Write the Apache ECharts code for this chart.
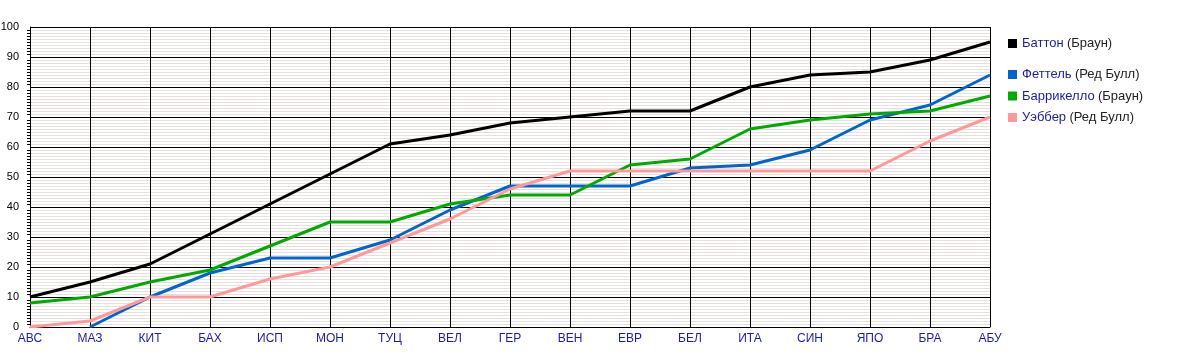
<!DOCTYPE html>
<html><head><meta charset="utf-8">
<script src="https://cdn.jsdelivr.net/npm/echarts@6/dist/echarts.min.js"></script>
<style>html,body{margin:0;padding:0;background:#fff}#c{width:1190px;height:357px}</style>
</head><body><div id="c"></div>
<script>
const categories = ['АВС','МАЗ','КИТ','БАХ','ИСП','МОН','ТУЦ','ВЕЛ','ГЕР','ВЕН','ЕВР','БЕЛ','ИТА','СИН','ЯПО','БРА','АБУ'];
const yTicks = [0,10,20,30,40,50,60,70,80,90,100];
const button = [10,15,21,31,41,51,61,64,68,70,72,72,80,84,85,89,95];
const vettel = [null,0,10,18,23,23,29,39,47,47,47,53,54,59,69,74,84];
const barrichello = [8,10,15,19,27,35,35,41,44,44,54,56,66,69,71,72,77];
const webber = [0,2,10,10,16,20,28,36,46,52,52,52,52,52,52,62,70];
const names = ['Баттон','Феттель','Баррикелло','Уэббер'];
const teams = ['Браун','Ред Булл','Браун','Ред Булл'];
const colors = ['#000000','#0066cc','#00aa00','#ff9999'];
const seriesData = [button, vettel, barrichello, webber];

const chart = echarts.init(document.getElementById('c'), null, {renderer:'canvas'});
const font = '"Liberation Sans", Arial, sans-serif';
const legendFmt = function(n){ const i = names.indexOf(n); return '{n|' + n + '} {t|(' + teams[i] + ')}'; };
const legendRich = { n:{color:'#1c1ca8', fontSize:13, fontFamily:font}, t:{color:'#222', fontSize:13, fontFamily:font} };
chart.setOption({
  animation:false,
  grid:{left:30, right:200, top:27, bottom:30, containLabel:false, outerBoundsMode:'none'},
  xAxis:{
    type:'category', data:categories, boundaryGap:false,
    axisLine:{show:true, lineStyle:{color:'#000', width:1}},
    axisTick:{show:false},
    axisLabel:{color:'#1c1ca8', fontSize:12, fontFamily:font, margin:6, interval:0},
    splitLine:{show:true, lineStyle:{color:'#000', width:1}}
  },
  yAxis:{
    type:'value', min:0, max:100, interval:10,
    axisLine:{show:true, lineStyle:{color:'#000', width:1}},
    axisTick:{show:false},
    minorTick:{show:true, splitNumber:10, length:3, lineStyle:{color:'#000'}},
    axisLabel:{color:'#000', fontSize:11, fontFamily:font, margin:11,
      formatter:function(v){ return yTicks.indexOf(v) >= 0 ? String(v) : ''; }},
    splitLine:{show:true, lineStyle:{color:'#000', width:1}},
    minorSplitLine:{show:true, lineStyle:{color:'#e8e0dc', width:1}}
  },
  legend:[
    {data:[names[0]], orient:'vertical', left:1003, top:32, icon:'rect', itemWidth:9, itemHeight:9, itemGap:8,
     formatter:legendFmt, textStyle:{rich:legendRich}},
    {data:names.slice(1), orient:'vertical', left:1003, top:63, itemGap:8.5, icon:'rect', itemWidth:9, itemHeight:9,
     formatter:legendFmt, textStyle:{rich:legendRich}}
  ],
  series: names.map(function(n,i){ return {
    name:n, type:'line', data:seriesData[i], color:colors[i],
    showSymbol:false, symbol:'none', connectNulls:false,
    lineStyle:{width:3, color:colors[i]}
  };})
});
</script></body></html>
